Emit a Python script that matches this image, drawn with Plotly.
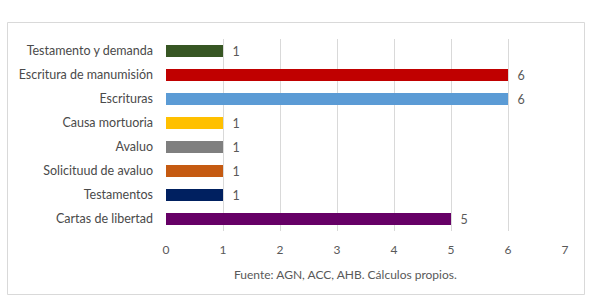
import plotly.graph_objects as go

categories = ["Cartas de libertad", "Testamentos", "Solicituud de avaluo", "Avaluo",
              "Causa mortuoria", "Escrituras", "Escritura de manumisión", "Testamento y demanda"]
values = [5, 1, 1, 1, 1, 6, 6, 1]
colors = ["#660066", "#002060", "#c55a11", "#7f7f7f", "#ffc000", "#5b9bd5", "#c00000", "#375623"]
xticks = [0, 1, 2, 3, 4, 5, 6, 7]
source = "Fuente: AGN, ACC, AHB. Cálculos propios."

W, H = 591, 297
L, R, T, B = 166, 26, 39, 66

fig = go.Figure(go.Bar(
    y=categories, x=values, orientation="h",
    marker=dict(color=colors, line=dict(width=0)),
    width=0.5,
    text=["  " + str(v) for v in values], textposition="outside",
    textfont=dict(color="#595959", size=12.5, family="Lato"),
    constraintext="none",
    cliponaxis=False,
))

fig.update_layout(
    width=W, height=H,
    margin=dict(l=L, r=R, t=T, b=B),
    paper_bgcolor="white", plot_bgcolor="white",
    font=dict(family="Lato", size=12, color="#595959"),
    showlegend=False,
    uniformtext=dict(mode=False),
    xaxis=dict(range=[0, 7], tickvals=xticks, showgrid=True, gridcolor="#d9d9d9",
               gridwidth=1, zeroline=False, showline=False, ticks="",
               tickfont=dict(size=12, color="#595959"), ticklabelstandoff=10),
    yaxis=dict(categoryorder="array", categoryarray=categories, showgrid=False,
               showline=False, ticks="", ticklabelstandoff=12,
               tickfont=dict(size=12.5, color="#4a4a4a")),
    annotations=[dict(text=source, xref="paper", yref="paper", x=(345.5 - L) / (W - L - R),
                      y=-43/192, xanchor="center", yanchor="middle", showarrow=False,
                      font=dict(size=12, color="#595959"))],
    shapes=[dict(type="rect", xref="paper", yref="paper",
                 x0=(7.5 - L) / (W - L - R), x1=(584.5 - L) / (W - L - R),
                 y0=(H - B - 294.5) / (H - T - B), y1=(H - B - 22.5) / (H - T - B),
                 line=dict(color="#d9d9d9", width=1), fillcolor="rgba(0,0,0,0)",
                 layer="below")],
    bargap=0.5,
)

fig.write_html("out.html")
